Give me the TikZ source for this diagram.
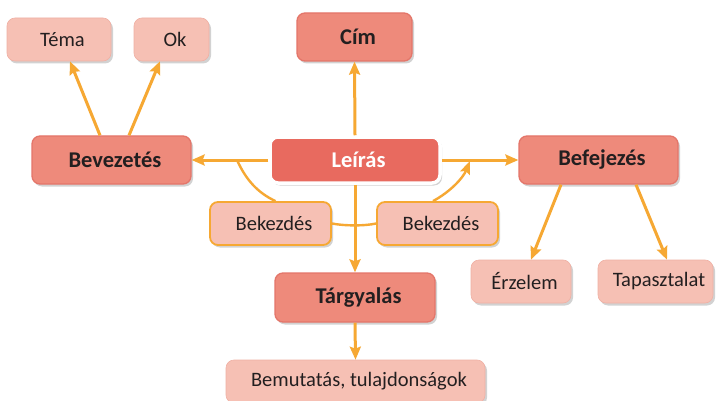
\documentclass[tikz,border=0pt]{standalone}
\usepackage{fontspec}
\setmainfont{Carlito}
\usetikzlibrary{shadows,arrows.meta}
\definecolor{darkbox}{HTML}{EE8A7B}
\definecolor{darkline}{HTML}{E4766A}
\definecolor{mainbox}{HTML}{E86A5F}
\definecolor{lightbox}{HTML}{F6C0B4}
\definecolor{lightline}{HTML}{F0B0A4}
\definecolor{arrowc}{HTML}{F6A833}
\definecolor{textc}{HTML}{231F20}
\newcommand{\tx}[1]{\hspace*{7pt}#1}
\begin{document}
\begin{tikzpicture}[x=1pt,y=-1pt,
  box/.style={rounded corners=8pt, inner sep=0pt, align=center, text=textc,
    font=\fontsize{20.5}{24}\selectfont,
    drop shadow={shadow xshift=2pt,shadow yshift=-2.5pt,opacity=0.35,fill=gray}},
  darknode/.style={box, fill=darkbox, draw=darkline, line width=1.3pt, font=\fontsize{22.5}{26}\selectfont\bfseries},
  mainnode/.style={box, fill=mainbox, draw=white, line width=3.5pt, text=white, font=\fontsize{22.5}{26}\selectfont\bfseries},
  lightnode/.style={box, fill=lightbox, draw=lightline, line width=0.6pt},
  paranode/.style={box, fill=lightbox, draw=arrowc, line width=1.8pt},
  arr/.style={draw=arrowc, line width=3pt, -{Stealth[length=13pt,width=11pt,inset=2pt]}},
  link/.style={draw=arrowc, line width=2.4pt}]
\useasboundingbox (0,0) rectangle (717,401);
\fill[white] (0,0) rectangle (717,401);
\clip (0,0) rectangle (717,401);

\node[lightnode, minimum width=104pt, minimum height=43pt] (tema) at (59,39.5) {\tx{Téma}};
\node[lightnode, minimum width=75pt, minimum height=43pt] (ok) at (171.5,39.5) {\tx{Ok}};
\node[darknode, minimum width=115pt, minimum height=48pt] (cim) at (354.5,37) {\tx{Cím}};
\node[darknode, minimum width=159pt, minimum height=48pt] (bev) at (111.5,160) {\tx{Bevezetés}};
\node[mainnode, minimum width=170pt, minimum height=46pt] (lei) at (355,160) {\tx{Leírás}};
\node[darknode, minimum width=159pt, minimum height=48pt] (bef) at (598.5,160) {\tx{Befejezés}};
\node[paranode, minimum width=121pt, minimum height=43pt] (bek1) at (270.5,223.5) {\tx{Bekezdés}};
\node[paranode, minimum width=121pt, minimum height=43pt] (bek2) at (437.5,223.5) {\tx{Bekezdés}};
\node[darknode, minimum width=160pt, minimum height=49pt] (targ) at (355,297.5) {\tx{Tárgyalás}};
\node[lightnode, minimum width=100pt, minimum height=43pt] (erz) at (521,281.5) {\tx{Érzelem}};
\node[lightnode, minimum width=115pt, minimum height=43pt] (tap) at (655.5,281.5) {\tx{Tapasztalat}};
\node[lightnode, minimum width=259pt, minimum height=43pt] (bem) at (355.5,381.5) {\tx{Bemutatás, tulajdonságok}};

\coordinate (c1) at (237,160);
\coordinate (c2) at (470,161);

\draw[arr] ([xshift=-11.5pt]bev.north) -- ([xshift=11pt]tema.south);
\draw[arr] ([xshift=17.5pt]bev.north) -- ([xshift=-11.5pt]ok.south);
\draw[arr] (lei.north) -- (cim.south);
\draw[arr] (lei.west) -- (bev.east);
\draw[arr] (lei.east) -- (bef.west);
\draw[arr] (lei.south) -- (targ.north);
\draw[arr] (targ.south) -- (bem.north);
\draw[arr] ([xshift=-37.5pt]bef.south) -- ([xshift=10pt]erz.north);
\draw[arr] ([xshift=37.5pt]bef.south) -- ([xshift=11.5pt]tap.north);

\draw[link] (c1) .. controls (246,180) and (258,193) .. ([xshift=5pt]bek1.north);
\draw[link] (bek1.east) .. controls (345,226) and (365,226) .. (bek2.west);
\draw[link, -{Stealth[length=13pt,width=10pt,inset=2pt]}] ([xshift=-4.5pt]bek2.north) .. controls (450,192) and (463,178) .. (c2);
\end{tikzpicture}
\end{document}
